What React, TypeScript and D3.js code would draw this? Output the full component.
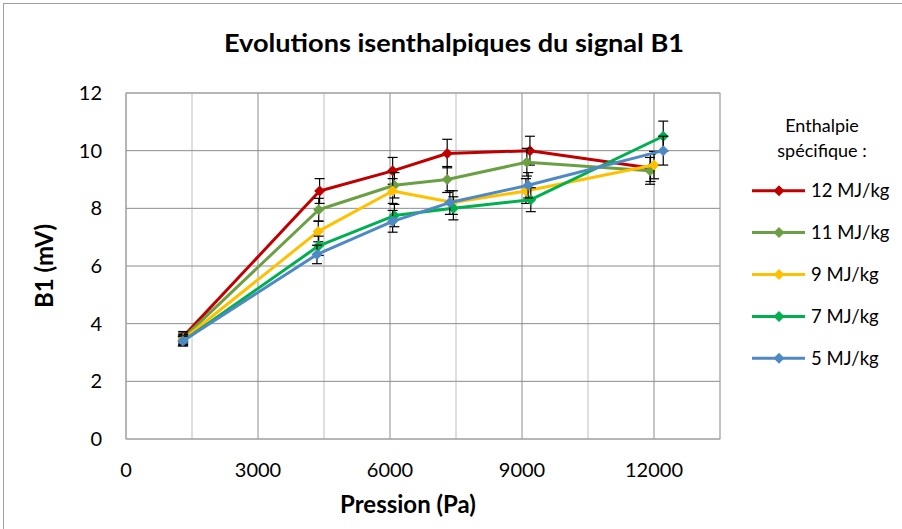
import React from "react";
import * as d3 from "d3";

// Pressure (Pa) and B1 signal (mV) per specific enthalpy series
const seriesNames = ["12 MJ/kg", "11 MJ/kg", "9 MJ/kg", "7 MJ/kg", "5 MJ/kg"];
const seriesColors = ["#C00000", "#6AA043", "#FFC000", "#00B050", "#4F89C5"];

const pressure12 = [1300, 4400, 6060, 7300, 9180, 11920];
const signal12 = [3.55, 8.6, 9.3, 9.9, 10.0, 9.4];
const pressure11 = [1300, 4380, 6100, 7300, 9110, 11910];
const signal11 = [3.5, 7.95, 8.8, 9.0, 9.6, 9.3];
const pressure9 = [1300, 4370, 6060, 7430, 9090, 12000];
const signal9 = [3.45, 7.2, 8.6, 8.2, 8.6, 9.5];
const pressure7 = [1300, 4380, 6100, 7440, 9200, 12210];
const signal7 = [3.4, 6.7, 7.75, 8.0, 8.3, 10.5];
const pressure5 = [1290, 4340, 6060, 7360, 9140, 12210];
const signal5 = [3.4, 6.4, 7.55, 8.2, 8.8, 10.0];

const xTicks = [0, 3000, 6000, 9000, 12000];
const xMinorGrid = [1500, 4500, 7500, 10500, 13500];
const yTicks = [0, 2, 4, 6, 8, 10, 12];

// Error bars: percentage of the value (as set in the spreadsheet)
const ERROR_PCT = 0.05;

const pressures = [pressure12, pressure11, pressure9, pressure7, pressure5];
const signals = [signal12, signal11, signal9, signal7, signal5];

const W = 902;
const H = 529;
const plot = { left: 126, right: 720, top: 93, bottom: 439 };
const FONT = "Lato, 'Open Sans', sans-serif";

export default function App() {
    const x = d3.scaleLinear().domain([0, 13500]).range([plot.left, plot.right]);
    const y = d3.scaleLinear().domain([0, 12]).range([plot.bottom, plot.top]);

    const line = d3.line<[number, number]>()
        .x((d) => x(d[0]))
        .y((d) => y(d[1]));

    const diamond = (cx: number, cy: number, r: number): string =>
        `M${cx},${cy - r}L${cx + r},${cy}L${cx},${cy + r}L${cx - r},${cy}Z`;

    const legendY = (i: number): number => 190.7 + i * 41.9;

    return (
        <svg width={W} height={H} style={{ position: "absolute", left: 0, top: 0 }}
            fontFamily={FONT}>
            <rect x={0} y={0} width={W} height={H} fill="#fff" />
            <rect x={3.5} y={3.5} width={W + 10} height={H + 10} fill="none" stroke="#A0A0A0" />

            <text x={454} y={52} textAnchor="middle" fontWeight="bold" fontSize={25}
                textLength={460} lengthAdjust="spacingAndGlyphs">
                Evolutions isenthalpiques du signal B1
            </text>

            {/* grid */}
            {xMinorGrid.map((v) => (
                <line key={"mx" + v} x1={x(v)} x2={x(v)} y1={plot.top} y2={plot.bottom}
                    stroke="#BFBFBF" strokeWidth={1} />
            ))}
            {xTicks.map((v) => (
                <line key={"gx" + v} x1={x(v)} x2={x(v)} y1={plot.top} y2={plot.bottom}
                    stroke="#8C8C8C" strokeWidth={1} />
            ))}
            {yTicks.map((v) => (
                <line key={"gy" + v} x1={plot.left} x2={plot.right} y1={y(v)} y2={y(v)}
                    stroke="#8C8C8C" strokeWidth={1} />
            ))}
            <rect x={plot.left} y={plot.top} width={plot.right - plot.left}
                height={plot.bottom - plot.top} fill="none" stroke="#A6A6A6" />

            {/* tick labels */}
            {yTicks.map((v) => (
                <text key={"ty" + v} x={102} y={y(v)} dy="0.35em" textAnchor="end" fontSize={20}>
                    {v}
                </text>
            ))}
            {xTicks.map((v) => (
                <text key={"tx" + v} x={x(v)} y={477} textAnchor="middle" fontSize={20}>
                    {v}
                </text>
            ))}

            <text x={408} y={513} textAnchor="middle" fontWeight="bold" fontSize={24}>
                Pression (Pa)
            </text>
            <text transform={`translate(53,266) rotate(-90)`} textAnchor="middle"
                fontWeight="bold" fontSize={24}>
                B1 (mV)
            </text>

            {/* series */}
            {seriesNames.map((name, i) => {
                const pts = pressures[i].map((p, j) => [p, signals[i][j]] as [number, number]);
                const color = seriesColors[i];
                return (
                    <g key={name}>
                        <path d={line(pts) ?? ""} fill="none" stroke={color} strokeWidth={3}
                            strokeLinejoin="round" />
                        {pts.map(([px, py], j) => {
                            const e = py * ERROR_PCT;
                            const cx = x(px);
                            return (
                                <g key={j} stroke="#000" strokeWidth={1.2}>
                                    <line x1={cx} x2={cx} y1={y(py + e)} y2={y(py - e)} />
                                    <line x1={cx - 5} x2={cx + 5} y1={y(py + e)} y2={y(py + e)} />
                                    <line x1={cx - 5} x2={cx + 5} y1={y(py - e)} y2={y(py - e)} />
                                </g>
                            );
                        })}
                        {pts.map(([px, py], j) => (
                            <path key={"m" + j} d={diamond(x(px), y(py), 5.5)} fill={color} />
                        ))}
                    </g>
                );
            })}

            {/* legend */}
            <text x={822} y={132} textAnchor="middle" fontSize={18}>Enthalpie</text>
            <text x={822} y={157} textAnchor="middle" fontSize={18}>spécifique :</text>
            {seriesNames.map((name, i) => (
                <g key={"lg" + name}>
                    <line x1={752} x2={805} y1={legendY(i)} y2={legendY(i)}
                        stroke={seriesColors[i]} strokeWidth={3} />
                    <path d={diamond(779, legendY(i), 5.5)} fill={seriesColors[i]} />
                    <text x={811} y={legendY(i)} dy="0.35em" fontSize={18.5}>{name}</text>
                </g>
            ))}
        </svg>
    );
}
